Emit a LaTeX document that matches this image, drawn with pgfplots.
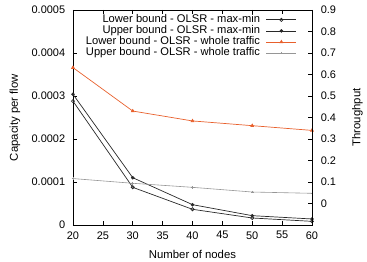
\documentclass[border=0pt]{standalone}
\usepackage{pgfplots}
\pgfplotsset{compat=1.18}
\usepackage{fontspec}
\setmainfont{Liberation Sans}
\definecolor{wholeorange}{RGB}{232,96,44}
\definecolor{wholegray}{RGB}{150,150,150}
\definecolor{mmdark}{RGB}{40,40,40}

\begin{document}
\fontsize{11}{13}\selectfont
\begin{tikzpicture}
% fixed frame around the plot area
\useasboundingbox (-73bp,-37bp) rectangle (294bp,225bp);
\pgfplotsset{
  every axis/.append style={
    scale only axis, width=239bp, height=215bp,
    at={(0,0)}, anchor=south west,
    xmin=20, xmax=60,
    tick align=inside,
    tick style={black, line width=0.5pt},
    major tick length=4pt,
    /pgf/number format/assume math mode=true,
    tick label style={font=\fontsize{11}{13}\selectfont},
    label style={font=\fontsize{11.4}{13}\selectfont},
  }
}
% capacity axis (left) with all series
\begin{axis}[
  ymin=0, ymax=0.0005,
  ytick={0,0.0001,0.0002,0.0003,0.0004,0.0005},
  yticklabel style={/pgf/number format/fixed, /pgf/number format/precision=4, xshift=-4bp},
  xticklabel style={yshift=-2.5bp},
  scaled y ticks=false,
  xtick={20,25,...,60},
  xtick pos=both,
  ytick pos=left,
  axis line style={black, line width=0.6pt},
  xlabel={Number of nodes},
  xlabel style={at={(axis description cs:0.5,-0.135)}, anchor=center},
  ylabel={Capacity per flow},
  ylabel style={at={(axis description cs:-0.243,0.5)}, anchor=center},
  legend style={draw=none, fill=none, at={(0.937,0.981)}, anchor=north east,
    font=\fontsize{11.2}{11}\selectfont, row sep=0pt, column sep=6bp, inner sep=0pt,
    nodes={inner sep=0pt, text height=8.3bp, text depth=2.8bp}},
  legend cell align=right,
  legend plot pos=right,
  legend image code/.code={\draw[mark repeat=2,mark phase=2]
    plot coordinates {(0bp,0bp) (15bp,0bp) (30bp,0bp)};},
]
\addplot[mmdark, line width=0.7pt, mark=o, mark size=1.6pt, mark options={solid}]
  coordinates {(20,0.000288) (30,0.0000876) (40,0.0000365) (50,0.0000163) (60,0.0000085)};
\addlegendentry{Lower bound - OLSR - max-min}
\addplot[mmdark, line width=0.7pt, mark=*, mark size=1.4pt]
  coordinates {(20,0.000304) (30,0.000110) (40,0.0000473) (50,0.0000217) (60,0.000014)};
\addlegendentry{Upper bound - OLSR - max-min}
\addplot[wholeorange, line width=0.7pt, mark=triangle*, mark size=1.6pt]
  coordinates {(20,0.000366) (30,0.000265) (40,0.000242) (50,0.000231) (60,0.000220)};
\addlegendentry{Lower bound - OLSR - whole traffic}
\addplot[wholegray, line width=0.6pt, mark=+, mark size=1.3pt]
  coordinates {(20,0.000108) (30,0.000097) (40,0.0000876) (50,0.0000767) (60,0.0000737)};
\addlegendentry{Upper bound - OLSR - whole traffic}
\end{axis}
% throughput axis (right)
\begin{axis}[
  ymin=-0.1, ymax=0.9,
  ytick={0,0.1,...,0.9},
  yticklabel style={/pgf/number format/fixed, /pgf/number format/precision=1, xshift=5bp},
  axis y line*=right,
  axis x line=none,
  axis line style={black, line width=0.6pt},
  ylabel={Throughput},
  ylabel style={at={(axis description cs:1.19,0.5)}, anchor=center},
]
\addplot[draw=none] coordinates {(20,0) (60,0)};
\end{axis}
\end{tikzpicture}
\end{document}
